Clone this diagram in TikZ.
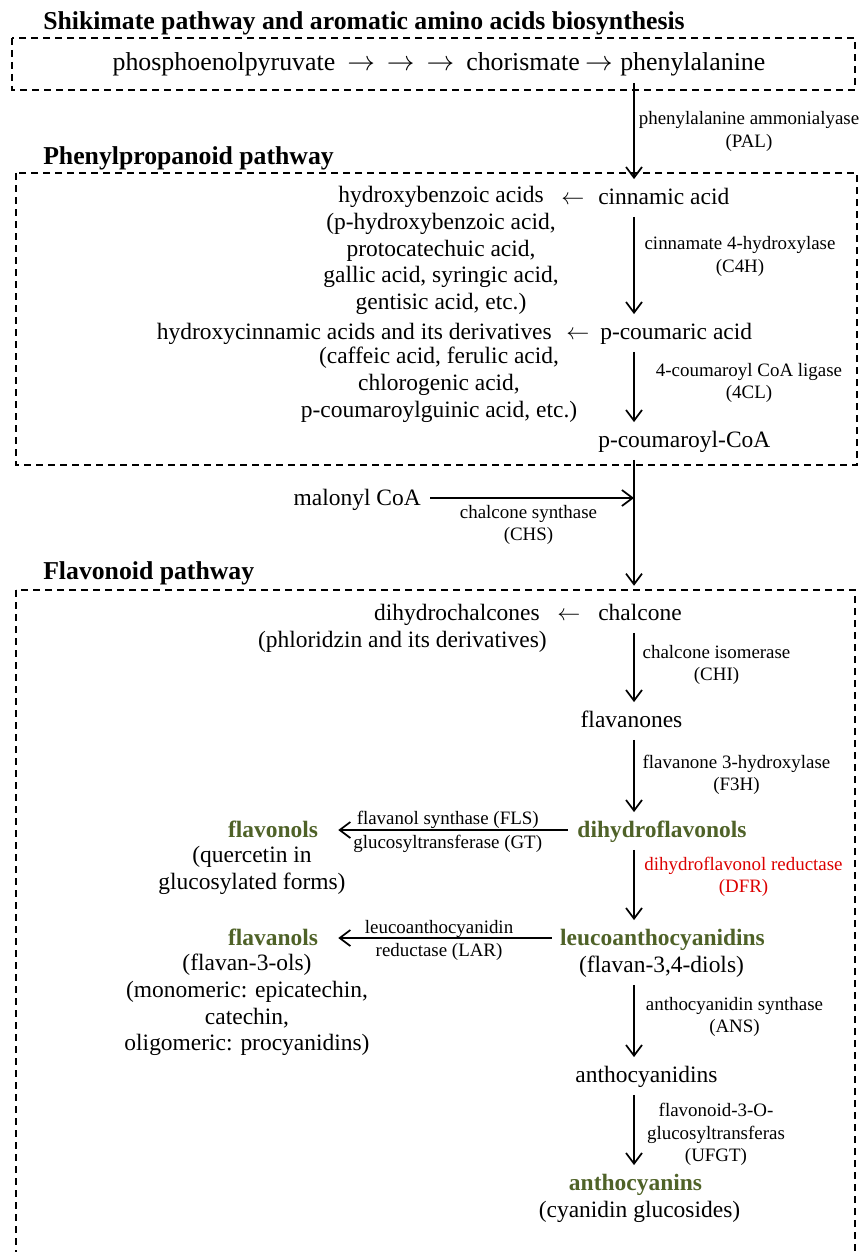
\documentclass[tikz,border=0pt]{standalone}
\usepackage{fontspec}
\setmainfont{Liberation Serif}
\usepackage{xcolor}
\usetikzlibrary{arrows.meta,calc,positioning}

\definecolor{flavgreen}{RGB}{79,98,40}
\definecolor{dfrred}{RGB}{220,0,0}

\tikzset{
	chem/.style={inner sep=0pt,align=center,font=\fontsize{17.6}{20.1}\selectfont},
	cpd/.style={chem,text height=16.5bp,text depth=5.9bp},
	topcpd/.style={cpd,font=\fontsize{19.4}{22}\selectfont},
	keycpd/.style={cpd,text=flavgreen,font=\fontsize{17.6}{20.1}\selectfont\bfseries},
	enzyme/.style={inner sep=0pt,align=center,font=\fontsize{14.2}{16.8}\selectfont},
	heading/.style={inner sep=0pt,anchor=west,font=\fontsize{19.3}{22}\selectfont\bfseries},
	pathbox/.style={draw,line width=1.2pt,dash pattern=on 5.25pt off 3.75pt},
	arr/.style={line width=1.3pt,-{Straight Barb[length=8pt,width=12pt]},shorten <=3.5pt,shorten >=2pt},
}

\begin{document}
\begin{tikzpicture}[x=0.75pt,y=-0.75pt]
	\useasboundingbox (0,0) rectangle (861,1252);
	% main axis of the pathway
	\coordinate (spine) at (634,0);

	% Shikimate pathway
	\node (shikhead) [heading] at (43,23) {Shikimate pathway and aromatic amino acids biosynthesis};
	\draw [pathbox] (12,38) rectangle (855,90);
	\node (shik) [topcpd,anchor=east] at (613,63) {phosphoenolpyruvate\hspace{9pt}$\rightarrow$\hspace{9pt}$\rightarrow$\hspace{9pt}$\rightarrow$\hspace{9pt}chorismate\hspace{4pt}$\rightarrow$};
	\node (phe) [topcpd,anchor=west] at (620,63) {phenylalanine};

	% Phenylpropanoid pathway
	\node (phenyhead) [heading] at (43,158) {Phenylpropanoid pathway};
	\draw [pathbox] (16,173) rectangle (857,465);

	% Marking cinnamic acid row
	\node (cinn) [cpd,anchor=west] at (598,197) {cinnamic acid};
	\node (tohba) [cpd] at (573,197) {$\leftarrow$};
	\node (hba) [chem] at (441,250.5) {hydroxybenzoic acids\\(p-hydroxybenzoic acid,\\protocatechuic acid,\\gallic acid, syringic acid,\\gentisic acid, etc.)};

	% Marking p-coumaric acid row
	\node (pcoum) [cpd,anchor=west] at (600,332) {p-coumaric acid};
	\node (tohca) [cpd] at (578,332) {$\leftarrow$};
	\node (hca) [cpd,anchor=east] at (552,332) {hydroxycinnamic acids and its derivatives};
	\node (hcalist) [chem] at (439,385) {(caffeic acid, ferulic acid,\\chlorogenic acid,\\p-coumaroylguinic acid, etc.)};

	\node (pcoa) [cpd,anchor=west] at (598,440) {p-coumaroyl-CoA};

	% Drawing arrows PAL, C4H, 4CL
	\draw [arr] (phe.south -| spine) -- (cinn.north -| spine);
	\node (pal) [enzyme] at (749,131.5) {phenylalanine ammonialyase\\(PAL)};
	\draw [arr] (cinn.south -| spine) -- (pcoum.north -| spine);
	\node (c4h) [enzyme] at (740,256.5) {cinnamate 4-hydroxylase\\(C4H)};
	\draw [arr] (pcoum.south -| spine) -- (pcoa.north -| spine);
	\node (fourcl) [enzyme] at (749,383) {4-coumaroyl CoA ligase\\(4CL)};

	% Drawing arrow CHS with malonyl CoA
	\node (malonyl) [cpd,anchor=east] at (421,498) {malonyl CoA};
	\draw [arr,shorten <=7pt,shorten >=0pt] (malonyl.east) -- (malonyl.east -| spine);
	\node (chs) [enzyme] at (528.5,525) {chalcone synthase\\(CHS)};

	% Flavonoid pathway
	\node (flavhead) [heading] at (43,573) {Flavonoid pathway};
	\draw [pathbox] (16,590) rectangle (855,1275);

	\node (chalc) [cpd,anchor=west] at (598,613) {chalcone};
	\node (todhc) [cpd] at (569,613) {$\leftarrow$};
	\node (dhc) [cpd,anchor=east] at (540,613) {dihydrochalcones};
	\node (phlor) [cpd,anchor=east] at (547,640) {(phloridzin and its derivatives)};
	\draw [arr,shorten >=9pt] (pcoa.south -| spine) -- (chalc.north -| spine);

	\node (flava) [cpd] at (631.5,720) {flavanones};
	\draw [arr] (chalc.south -| spine) -- (flava.north -| spine);
	\node (chi) [enzyme] at (716.5,665) {chalcone isomerase\\(CHI)};

	\node (dhf) [keycpd] at (662,830) {dihydroflavonols};
	\draw [arr] (flava.south -| spine) -- (dhf.north -| spine);
	\node (f3h) [enzyme] at (736.5,775) {flavanone 3-hydroxylase\\(F3H)};

	% Drawing arrow FLS, GT
	\node (flavonols) [keycpd] at (273,830) {flavonols};
	\node (querc) [chem] at (252,870) {(quercetin in\\glucosylated forms)};
	\draw [arr,shorten <=7pt,shorten >=15pt] (dhf.west) -- node [enzyme,above=0.5pt] {flavanol synthase (FLS)} node [enzyme,below=3.5pt] {glucosyltransferase (GT)} (flavonols.east);

	\node (leuco) [keycpd] at (662.5,938) {leucoanthocyanidins};
	\node (diols) [cpd] at (661.5,965) {(flavan-3,4-diols)};
	\draw [arr] (dhf.south -| spine) -- (leuco.north -| spine);
	\node (dfr) [enzyme,text=dfrred] at (743.5,877) {dihydroflavonol reductase\\(DFR)};

	% Drawing arrow LAR
	\node (flavanols) [keycpd] at (273,938) {flavanols};
	\node (f3ols) [chem] at (247,1005) {(flavan-3-ols)\\(monomeric: epicatechin,\\catechin,\\oligomeric: procyanidins)};
	\draw [arr,shorten <=6pt,shorten >=15pt] (leuco.west) -- node [enzyme,above=0pt] {leucoanthocyanidin} node [enzyme,below=3.5pt] {reductase (LAR)} (flavanols.east);

	\node (acy) [cpd] at (646.5,1075) {anthocyanidins};
	\draw [arr] (diols.south -| spine) -- (acy.north -| spine);
	\node (ans) [enzyme] at (734.5,1017) {anthocyanidin synthase\\(ANS)};

	\node (acn) [keycpd] at (635.5,1183) {anthocyanins};
	\node (cyg) [cpd] at (639.5,1210) {(cyanidin glucosides)};
	\draw [arr] (acy.south -| spine) -- (acn.north -| spine);
	\node (ufgt) [enzyme] at (716,1134.5) {flavonoid-3-O-\\glucosyltransferas\\(UFGT)};
\end{tikzpicture}
\end{document}
